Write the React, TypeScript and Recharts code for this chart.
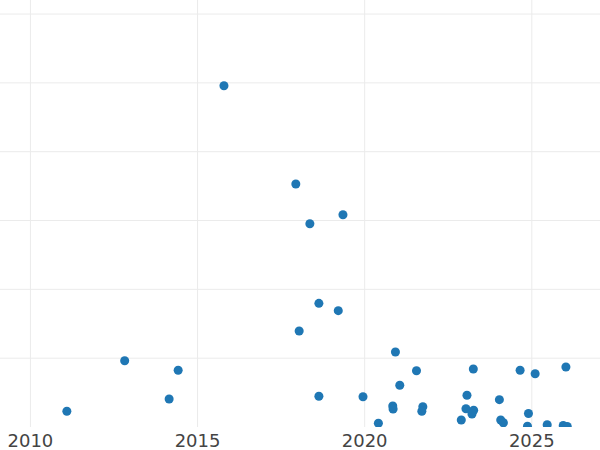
import React from "react"
import { ScatterChart, Scatter, XAxis, YAxis, CartesianGrid } from "recharts"

// year of each point (x) and its value (y)
const years = [
  2015.79, 2017.94, 2019.35, 2018.36, 2018.63, 2019.21, 2018.04, 2012.82, 2014.42, 2011.09,
  2014.15, 2018.63, 2019.95, 2020.92, 2021.05, 2021.55, 2020.84, 2020.85, 2020.41, 2021.74,
  2021.71, 2023.25, 2023.06, 2023.03, 2023.26, 2023.21, 2022.89, 2024.03, 2024.07, 2024.15,
  2024.65, 2025.1, 2024.9, 2024.87, 2025.46, 2026.02, 2025.94, 2026.06,
]
const values = [
  49.59, 35.3, 30.84, 29.54, 17.97, 16.9, 13.95, 9.63, 8.24, 2.28,
  4.07, 4.46, 4.4, 10.9, 6.06, 8.18, 3.05, 2.62, 0.54, 2.95,
  2.28, 8.43, 4.61, 2.66, 2.43, 1.89, 1.02, 3.97, 1.02, 0.62,
  8.24, 7.74, 1.96, 0.1, 0.32, 8.72, 0.22, 0.07,
]

const xTicks = [2010, 2015, 2020, 2025]
const yTicks = [10, 20, 30, 40, 50, 60]
const xDomain = [2009.09, 2027.04]
const yDomain = [0, 62.04]

const points = years.map((year, i) => ({ year, value: values[i] }))

function YearTick({ x, y, payload }: any) {
  return (
    <text x={x} y={y + 20} textAnchor="middle" fill="#444" fontSize={18} fontFamily="DejaVu Sans">
      {payload.value}
    </text>
  )
}

// grid lines only at the tick values, not at the plot edges
const verticalLines = ({ offset }: any) =>
  xTicks.map((t) => offset.left + ((t - xDomain[0]) / (xDomain[1] - xDomain[0])) * offset.width)
const horizontalLines = ({ offset }: any) =>
  yTicks.map((t) => offset.top + (1 - (t - yDomain[0]) / (yDomain[1] - yDomain[0])) * offset.height)

export default function App() {
  return (
    <div style={{ position: "absolute", left: 0, top: 0, width: 600, height: 450, background: "#fff" }}>
      <ScatterChart width={600} height={450} margin={{ top: 0, right: 0, bottom: 0, left: 0 }}>
        <CartesianGrid
          stroke="#ebebeb"
          verticalCoordinatesGenerator={verticalLines}
          horizontalCoordinatesGenerator={horizontalLines}
        />
        <XAxis
          dataKey="year"
          type="number"
          domain={xDomain}
          ticks={xTicks}
          interval={0}
          allowDataOverflow
          axisLine={false}
          tickLine={false}
          tickSize={0}
          tickMargin={0}
          height={23}
          tick={<YearTick />}
        />
        <YAxis dataKey="value" type="number" domain={yDomain} ticks={yTicks} allowDataOverflow hide />
        <Scatter data={points} fill="#1f77b4" isAnimationActive={false} />
      </ScatterChart>
    </div>
  )
}
